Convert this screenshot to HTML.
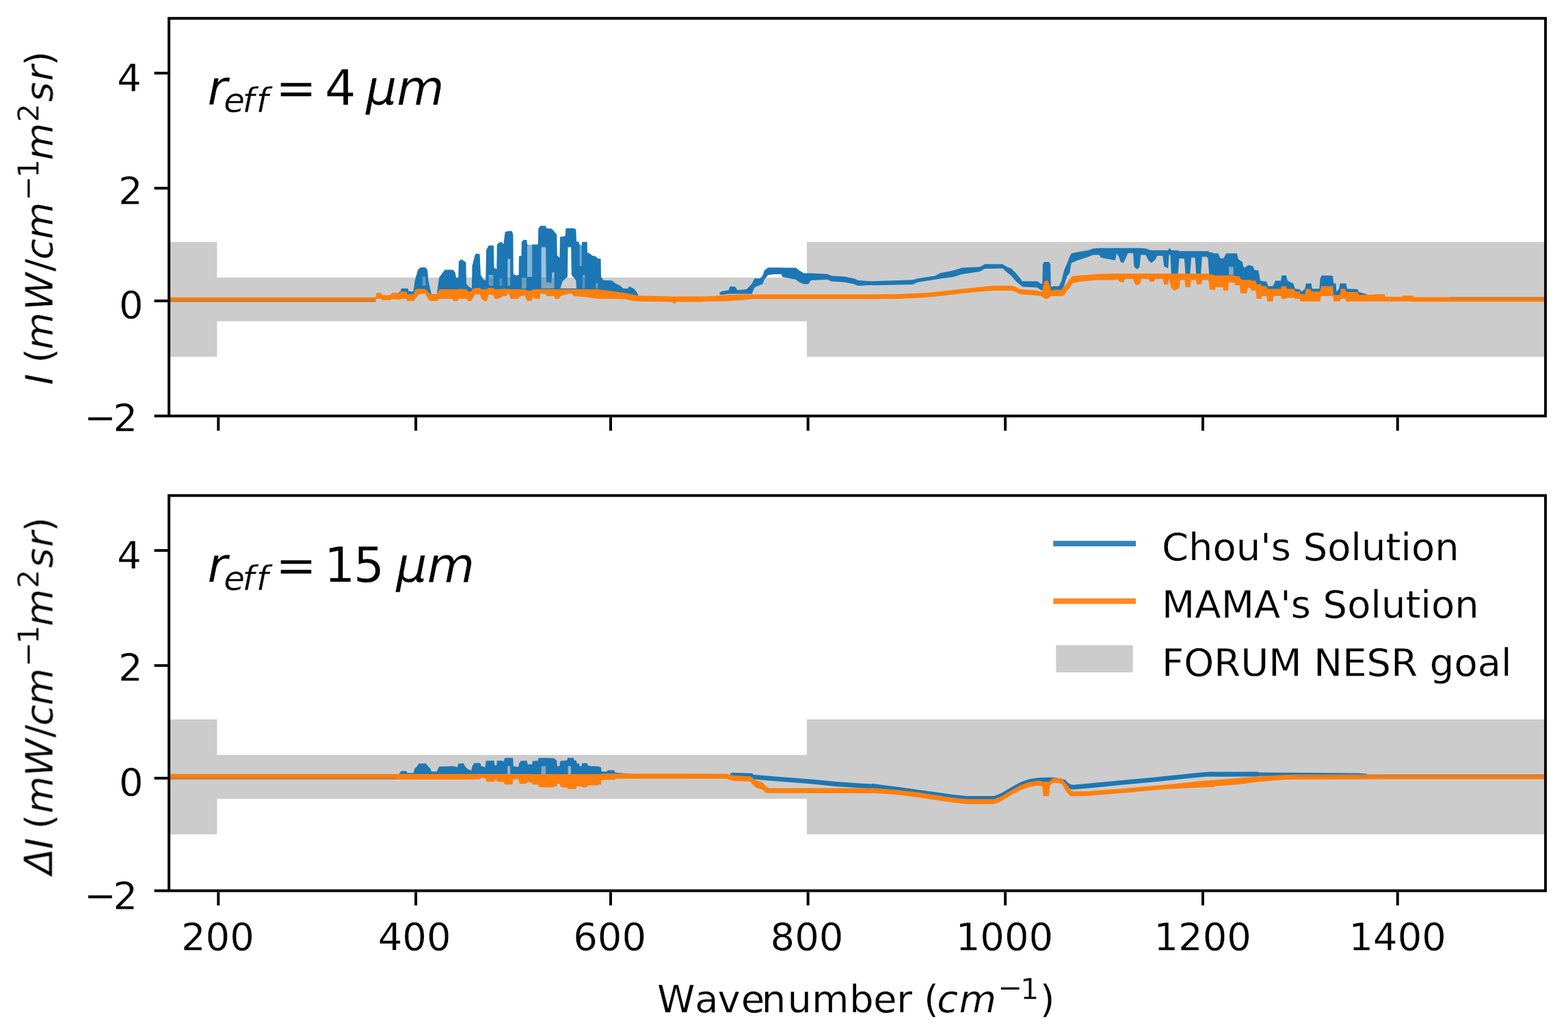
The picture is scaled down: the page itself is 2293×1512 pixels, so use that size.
<!DOCTYPE html>
<html><head><meta charset="utf-8"><title>plot</title>
<style>html,body{margin:0;padding:0;background:#fff}svg{display:block}</style></head>
<body>
<svg width="2293" height="1512" viewBox="0 0 2293 1512" role="img" aria-label="Radiance difference spectra for two effective radii">
<rect width="2293" height="1512" fill="#fff"/>
<defs>
<clipPath id="ct"><rect x="247.1" y="26.8" width="2013.0" height="581.5"/></clipPath>
<clipPath id="cb"><rect x="247.1" y="724.6" width="2013.0" height="577.9"/></clipPath>
<mask id="mt" maskUnits="userSpaceOnUse" x="0" y="0" width="2293" height="1512"><rect width="2293" height="1512" fill="#fff"/>
<polygon points="830.5,361.5 835.1,361.5 835.8,402.1 842.3,410.0 843.0,421.8 819.4,421.8 822.7,411.3 829.9,404.8" fill="rgb(0,0,0)"/>
<polygon points="791.6,361.5 798.2,361.5 798.7,412.6 806.3,413.9 807.6,398.2 810.5,398.2 810.5,421.8 791.6,421.8" fill="rgb(115,115,115)"/>
<polygon points="771.0,358.9 778.2,358.9 778.2,404.8 771.0,404.8" fill="rgb(140,140,140)"/>
<polygon points="763.1,406.1 769.6,406.1 769.6,421.8 763.1,421.8" fill="rgb(128,128,128)"/>
<polygon points="847.6,358.9 850.8,358.9 850.8,389.0 847.6,389.0" fill="rgb(166,166,166)"/>
<polygon points="852.1,402.1 855.4,402.1 855.4,421.8 852.1,421.8" fill="rgb(166,166,166)"/>
<polygon points="871.1,413.9 874.4,413.9 874.4,421.8 871.1,421.8" fill="rgb(153,153,153)"/>
<polygon points="742.2,378.6 746.2,378.6 746.2,417.8 742.2,417.8" fill="rgb(128,128,128)"/>
<polygon points="714.7,402.1 721.3,402.1 721.3,417.8 714.7,417.8" fill="rgb(153,153,153)"/>
<polygon points="730.5,407.4 734.4,407.4 734.4,417.8 730.5,417.8" fill="rgb(178,178,178)"/>
<polygon points="763.2,406.1 767.1,406.1 767.1,417.8 763.2,417.8" fill="rgb(153,153,153)"/>
<polygon points="617.8,404.8 622.4,404.8 622.4,417.8 617.8,417.8" fill="rgb(153,153,153)"/>
<polygon points="1760.5,378.6 1764.4,378.6 1764.4,398.2 1760.5,398.2" fill="rgb(38,38,38)"/>
<polygon points="1797.1,390.3 1803.7,390.3 1803.7,402.1 1797.1,402.1" fill="rgb(102,102,102)"/>
</mask>
<mask id="mb" maskUnits="userSpaceOnUse" x="0" y="0" width="2293" height="1512"><rect width="2293" height="1512" fill="#fff"/>
<polygon points="742.2,1120.3 746.2,1120.3 746.2,1134.8 742.2,1134.8" fill="rgb(77,77,77)"/>
<polygon points="791.6,1120.3 798.2,1120.3 798.2,1134.8 791.6,1134.8" fill="rgb(115,115,115)"/>
<polygon points="830.5,1120.3 834.9,1120.3 834.9,1134.8 830.5,1134.8" fill="rgb(77,77,77)"/>
</mask>
<filter id="bl" filterUnits="userSpaceOnUse" x="0" y="0" width="2293" height="1512"><feGaussianBlur stdDeviation="0.5"/></filter>
<filter id="bt" filterUnits="userSpaceOnUse" x="0" y="0" width="2293" height="1512"><feGaussianBlur stdDeviation="0.7"/></filter>
</defs>
<polygon points="247.1,353.8 317.3,353.8 317.3,405.8 1179.8,405.8 1179.8,353.8 2260.1,353.8 2260.1,521.8 1179.8,521.8 1179.8,469.8 317.3,469.8 317.3,521.8 247.1,521.8" fill="#cccccc" clip-path="url(#ct)"/>
<polygon points="247.1,1051.9 317.3,1051.9 317.3,1103.9 1179.8,1103.9 1179.8,1051.9 2260.1,1051.9 2260.1,1219.9 1179.8,1219.9 1179.8,1167.9 317.3,1167.9 317.3,1219.9 247.1,1219.9" fill="#cccccc" clip-path="url(#cb)"/>
<g clip-path="url(#ct)" filter="url(#bl)">
<g mask="url(#mt)">
<polygon points="578.6,430.9 585.8,425.7 587.1,421.8 596.2,421.8 597.6,425.7 603.4,426.4 604.8,424.4 606.7,410.0 611.3,394.3 615.2,391.0 621.8,391.0 625.0,394.3 626.4,410.0 629.0,421.8 630.9,430.3 638.8,430.3 642.1,406.1 646.7,399.5 650.6,394.5 662.4,394.5 665.6,398.2 667.0,406.1 670.2,406.1 670.9,382.5 674.2,379.2 678.1,381.2 681.4,383.8 682.0,415.2 685.9,419.2 689.9,421.8 690.5,389.0 694.4,373.3 696.4,370.7 701.6,371.4 703.0,402.1 706.9,408.7 710.2,410.0 711.1,365.5 714.7,358.9 721.9,358.9 722.6,391.7 726.3,393.6 726.8,357.6 730.5,354.3 734.4,354.3 736.3,357.6 738.6,339.3 742.2,338.0 748.8,338.0 750.4,343.2 750.8,400.8 754.7,402.8 758.6,402.1 759.0,374.6 762.5,374.0 762.9,353.7 765.8,350.4 770.4,351.1 771.0,357.6 775.0,358.9 775.0,358.3 778.2,358.3 778.8,357.6 786.7,357.6 787.3,334.0 790.6,330.1 798.4,330.4 799.1,334.0 806.3,334.3 810.2,338.0 814.2,343.2 814.8,373.3 818.4,377.3 819.0,346.5 822.7,345.8 826.6,345.2 827.3,334.3 830.5,333.8 839.0,333.8 842.3,335.4 843.0,353.0 846.6,353.7 847.2,357.6 850.8,358.9 851.1,353.7 858.7,353.7 858.9,369.4 862.6,370.7 866.5,374.0 870.5,374.4 874.4,377.9 878.6,378.6 879.0,404.8 882.3,409.7 886.8,410.0 894.7,410.3 899.3,413.9 907.1,417.8 911.1,421.8 918.9,422.0 919.6,418.5 926.8,422.0 930.7,426.4 933.3,430.9 933.3,436.5 926.8,435.5 913.7,432.9 899.3,431.6 874.4,430.0 854.8,428.6 839.0,428.0 835.1,426.0 828.6,426.7 819.4,428.0 818.1,430.0 811.5,430.0 810.2,428.0 799.8,428.0 798.4,426.7 790.6,426.0 789.3,430.0 782.7,430.0 778.8,428.6 777.5,432.6 775.0,432.6 775.0,432.3 771.0,432.6 767.1,427.3 761.9,428.0 756.6,430.0 746.8,430.0 743.6,425.0 740.9,427.7 735.7,427.7 729.1,430.0 723.9,430.0 721.3,426.4 714.7,425.7 712.1,431.3 708.2,431.6 704.3,430.0 701.6,425.7 695.1,425.7 691.2,429.6 688.6,433.2 684.6,433.2 682.0,430.0 671.5,429.6 668.9,431.6 663.7,431.6 661.1,430.0 642.7,430.0 638.8,435.2 629.6,435.2 625.7,431.6 621.8,425.7 612.6,426.4 607.4,430.0 604.8,435.2 595.6,435.2 594.3,431.6 586.4,431.6 585.1,433.2 578.6,433.1" fill="#1f77b4"/>
<polygon points="1052.4,427.7 1056.3,425.7 1065.5,424.3 1067.4,419.0 1074.6,419.0 1078.6,424.3 1091.7,423.0 1095.6,419.0 1099.5,415.1 1103.4,407.2 1111.3,407.2 1115.2,403.3 1117.8,395.5 1123.1,391.3 1130.9,391.3 1142.7,391.3 1144.0,391.5 1163.7,391.5 1168.9,395.5 1175.5,399.4 1182.0,399.4 1185.9,399.4 1209.5,400.7 1216.1,403.3 1235.7,404.6 1248.8,407.2 1255.3,409.9 1275.0,411.2 1275.0,411.2 1335.1,409.2 1341.7,407.2 1367.8,403.3 1374.4,399.4 1394.0,395.5 1407.1,391.5 1433.3,390.2 1439.9,386.3 1466.1,386.3 1472.6,390.2 1479.1,392.8 1485.7,399.4 1492.2,407.2 1494.9,411.2 1517.1,411.2 1522.4,415.1 1524.3,415.1 1525.0,386.3 1526.9,383.0 1534.1,383.0 1536.1,386.3 1536.8,419.0 1540.0,419.0 1539.9,418.4 1548.4,418.4 1552.4,410.5 1556.3,394.8 1560.2,385.6 1564.2,375.2 1566.8,370.6 1575.9,368.6 1591.7,366.0 1598.2,363.4 1607.4,362.7 1610.0,362.7 1624.4,362.7 1630.9,362.7 1632.9,362.7 1636.2,362.7 1638.8,362.7 1642.7,362.7 1646.7,362.7 1649.3,362.7 1657.1,362.7 1658.4,362.7 1662.4,362.7 1666.3,362.7 1668.3,362.7 1675.5,363.4 1679.4,364.7 1683.3,366.0 1688.6,366.0 1692.5,366.0 1700.3,366.0 1702.3,366.0 1708.2,366.0 1709.5,363.4 1711.5,363.4 1712.8,366.0 1722.6,366.0 1724.6,367.3 1731.8,367.3 1733.7,367.3 1740.3,367.3 1742.2,367.3 1747.5,367.3 1749.4,367.3 1756.0,367.3 1758.0,367.3 1764.5,367.3 1766.5,367.3 1768.4,368.6 1775.0,369.9 1775.0,370.6 1781.4,370.6 1784.7,377.8 1789.3,377.8 1793.2,370.6 1808.9,370.6 1810.9,379.1 1816.8,383.0 1818.7,390.9 1820.7,390.9 1825.9,387.6 1832.5,389.6 1834.5,394.8 1840.3,395.5 1843.0,410.5 1852.1,411.8 1854.8,418.4 1861.3,418.4 1865.2,410.5 1873.1,410.5 1874.4,402.7 1880.9,402.7 1882.9,410.5 1891.4,414.4 1894.0,422.3 1900.6,423.0 1903.2,426.4 1908.4,422.3 1909.7,414.4 1917.6,414.4 1918.9,422.3 1929.4,422.3 1930.7,406.6 1933.3,402.7 1949.0,403.3 1950.3,414.4 1953.6,414.4 1954.3,426.2 1958.2,422.3 1959.5,414.4 1968.7,414.4 1970.0,422.3 1985.7,423.0 1987.0,426.9 1998.8,430.3 1998.8,436.2 1987.0,434.3 1985.7,434.3 1970.0,433.0 1968.7,431.7 1959.5,431.7 1958.2,433.0 1954.3,433.0 1953.6,431.7 1950.3,431.7 1949.0,425.2 1933.3,425.2 1930.7,425.2 1929.4,430.4 1918.9,430.4 1917.6,430.4 1909.7,430.4 1908.4,431.7 1903.2,432.3 1900.6,430.4 1894.0,430.4 1891.4,427.8 1882.9,426.5 1880.9,425.2 1874.4,425.2 1873.1,425.2 1865.2,425.2 1861.3,425.2 1854.8,425.2 1852.1,423.9 1843.0,422.6 1840.3,419.9 1834.5,417.3 1832.5,414.7 1825.9,413.4 1820.7,412.1 1818.7,412.1 1816.8,409.5 1810.9,406.8 1808.9,404.2 1793.2,404.2 1789.3,404.2 1784.7,404.2 1781.4,404.2 1775.0,404.2 1775.0,402.9 1768.4,402.9 1766.5,378.0 1764.5,375.4 1758.0,375.4 1756.0,401.6 1749.4,401.6 1747.5,376.7 1742.2,376.7 1740.3,401.6 1733.7,401.6 1731.8,378.0 1724.6,378.0 1722.6,401.6 1712.8,401.6 1711.5,372.8 1709.5,372.8 1708.2,392.4 1702.3,389.8 1700.3,374.1 1692.5,374.1 1688.6,380.7 1683.3,384.6 1679.4,380.7 1675.5,372.8 1668.3,372.8 1666.3,391.1 1662.4,393.8 1658.4,389.8 1657.1,370.2 1649.3,370.2 1646.7,376.7 1642.7,384.6 1638.8,383.3 1636.2,375.4 1632.9,370.2 1630.9,380.7 1624.4,379.4 1610.0,376.7 1607.4,372.8 1598.2,372.8 1591.7,375.4 1575.9,380.7 1566.8,384.6 1564.2,399.0 1560.2,404.2 1556.3,417.3 1552.4,425.2 1548.4,426.5 1539.9,426.5 1540.0,425.8 1536.8,425.8 1536.1,424.5 1534.1,424.5 1526.9,424.5 1525.0,424.5 1524.3,424.5 1522.4,424.5 1517.1,420.6 1494.9,419.3 1492.2,416.7 1485.7,411.4 1479.1,403.6 1472.6,398.3 1466.1,392.4 1439.9,393.1 1433.3,397.0 1407.1,401.0 1394.0,404.9 1374.4,407.5 1367.8,408.8 1341.7,412.7 1335.1,416.0 1275.0,417.3 1275.0,416.7 1255.3,418.0 1248.8,415.4 1235.7,412.7 1216.1,411.4 1209.5,408.8 1185.9,410.1 1182.0,415.4 1175.5,415.4 1168.9,412.7 1163.7,408.8 1144.0,404.9 1142.7,401.0 1130.9,401.0 1123.1,402.3 1117.8,408.8 1115.2,415.4 1111.3,416.7 1103.4,420.6 1099.5,429.8 1095.6,429.8 1091.7,429.8 1078.6,429.8 1074.6,429.8 1067.4,429.8 1065.5,429.8 1056.3,430.9 1052.4,430.9" fill="#1f77b4"/>
</g>
<polygon points="247.0,434.7 549.5,434.7 550.4,428.3 557.6,428.3 558.9,431.5 570.7,431.5 573.3,428.3 585.1,428.3 586.4,426.3 594.3,426.3 595.6,430.2 604.8,430.2 607.4,423.0 612.6,422.4 621.8,422.4 625.7,426.3 629.6,430.2 638.8,430.2 642.7,423.0 661.1,423.0 663.7,423.0 668.9,423.0 671.5,422.4 682.0,423.0 684.6,426.3 688.6,426.3 691.2,422.4 695.1,421.1 701.6,421.1 704.3,423.0 708.2,423.0 712.1,422.4 714.7,421.1 721.3,421.1 723.9,423.0 729.1,423.0 735.7,422.4 740.9,422.4 743.6,422.4 746.8,423.0 756.6,423.0 761.9,423.0 767.1,423.0 771.0,425.0 775.0,425.0 775.0,425.0 777.5,425.0 778.8,423.0 782.7,423.0 789.3,423.0 790.6,423.0 798.4,423.0 799.8,423.0 810.2,423.0 811.5,423.0 818.1,423.0 819.4,423.0 828.6,423.0 835.1,423.0 839.0,423.0 854.8,423.0 874.4,423.0 899.3,426.3 913.7,428.3 926.8,430.9 933.3,432.2 983.1,433.5 985.7,433.5 989.6,433.5 1025.0,433.5 1025.0,433.5 1031.4,433.5 1052.4,432.2 1065.5,430.9 1091.7,430.6 1099.5,430.6 1261.9,430.6 1275.0,430.5 1275.0,430.5 1315.5,430.0 1354.8,428.3 1380.9,425.6 1407.1,422.4 1433.3,419.7 1453.0,417.8 1479.1,417.8 1485.7,419.7 1492.2,423.0 1511.9,424.3 1522.4,426.3 1524.3,426.3 1526.3,414.5 1528.3,410.6 1532.2,410.6 1534.1,414.5 1536.8,423.7 1540.0,425.0 1539.9,423.7 1552.4,423.7 1556.3,418.4 1560.2,414.5 1564.2,408.0 1568.1,404.0 1578.6,402.7 1604.8,400.8 1630.9,400.1 1633.6,400.1 1637.5,400.1 1642.7,400.1 1645.3,400.1 1657.1,400.1 1659.1,400.1 1663.0,400.1 1667.6,400.1 1668.9,400.1 1679.4,400.1 1682.0,400.1 1687.2,400.1 1689.9,400.1 1700.3,400.1 1702.3,400.1 1708.2,400.1 1709.5,400.1 1712.8,400.1 1717.4,400.1 1724.6,400.1 1725.9,400.1 1732.4,400.1 1733.7,400.1 1740.3,400.1 1742.2,400.1 1748.8,400.1 1750.1,400.1 1756.6,400.1 1758.6,400.1 1767.1,400.1 1769.1,401.4 1775.0,401.4 1775.0,402.7 1776.2,402.7 1777.5,402.7 1788.0,402.7 1789.3,402.7 1795.8,402.7 1797.1,402.7 1805.0,402.7 1806.3,404.0 1812.9,404.0 1814.2,409.3 1823.3,409.3 1824.6,409.3 1828.6,409.3 1829.9,410.6 1836.4,410.6 1837.7,415.8 1844.3,415.8 1845.6,418.4 1852.1,418.4 1853.4,422.4 1861.3,422.4 1862.6,422.4 1873.1,422.4 1874.4,418.4 1880.9,418.4 1882.3,422.4 1892.7,422.4 1894.0,426.3 1900.6,426.3 1901.9,430.2 1908.4,430.2 1909.7,422.4 1916.3,422.4 1917.6,426.3 1930.7,426.3 1932.0,418.4 1949.0,418.4 1950.3,431.5 1959.5,431.5 1960.8,422.4 1967.4,422.4 1968.7,426.9 1985.7,426.9 1987.0,430.9 2009.3,430.9 2010.6,430.2 2025.0,430.2 2025.0,430.9 2026.2,434.1 2049.8,434.1 2052.4,432.2 2065.5,432.2 2068.1,434.4 2258.6,434.4 2258.6,441.2 2068.1,441.2 2065.5,440.8 2052.4,440.8 2049.8,440.8 2026.2,440.8 2025.0,440.8 2025.0,440.8 2010.6,440.8 2009.3,440.8 1987.0,440.8 1985.7,440.8 1968.7,440.8 1967.4,436.9 1960.8,436.9 1959.5,440.8 1950.3,440.8 1949.0,433.0 1932.0,433.0 1930.7,440.8 1917.6,440.8 1916.3,440.8 1909.7,440.8 1908.4,440.8 1901.9,440.8 1900.6,436.9 1894.0,436.9 1892.7,435.6 1882.3,435.6 1880.9,436.9 1874.4,436.9 1873.1,433.0 1862.6,433.0 1861.3,440.8 1853.4,440.8 1852.1,433.0 1845.6,433.0 1844.3,436.9 1837.7,436.9 1836.4,425.1 1829.9,425.1 1828.6,421.2 1824.6,421.2 1823.3,429.0 1814.2,429.0 1812.9,417.3 1806.3,417.3 1805.0,413.3 1797.1,413.3 1795.8,425.1 1789.3,425.1 1788.0,419.9 1777.5,419.9 1776.2,425.1 1775.0,425.1 1775.0,423.8 1769.1,423.8 1767.1,409.4 1758.6,409.4 1756.6,415.9 1750.1,415.9 1748.8,409.4 1742.2,409.4 1740.3,419.9 1733.7,419.9 1732.4,409.4 1725.9,409.4 1724.6,421.2 1717.4,425.1 1712.8,421.2 1709.5,408.1 1708.2,415.9 1702.3,415.9 1700.3,408.1 1689.9,408.1 1687.2,412.0 1682.0,412.0 1679.4,408.1 1668.9,408.1 1667.6,414.6 1663.0,417.3 1659.1,414.6 1657.1,408.1 1645.3,408.1 1642.7,413.3 1637.5,412.0 1633.6,408.1 1630.9,409.4 1604.8,409.4 1578.6,412.0 1568.1,414.6 1564.2,421.2 1560.2,425.1 1556.3,431.7 1552.4,433.0 1539.9,433.0 1540.0,433.0 1536.8,433.0 1534.1,435.6 1532.2,436.9 1528.3,436.9 1526.3,435.6 1524.3,434.3 1522.4,433.0 1511.9,431.7 1492.2,430.4 1485.7,427.1 1479.1,425.1 1453.0,424.9 1433.3,426.4 1407.1,429.0 1380.9,432.3 1354.8,434.9 1315.5,436.9 1275.0,437.3 1275.0,437.2 1261.9,437.3 1099.5,437.3 1091.7,438.2 1065.5,440.2 1052.4,440.8 1031.4,440.8 1025.0,441.5 1025.0,441.5 989.6,441.5 985.7,444.8 983.1,441.5 933.3,440.8 926.8,440.2 913.7,437.6 899.3,436.9 874.4,436.9 854.8,434.3 839.0,433.0 835.1,429.0 828.6,430.4 819.4,433.0 818.1,436.9 811.5,436.9 810.2,433.0 799.8,433.0 798.4,430.4 790.6,429.0 789.3,436.9 782.7,436.9 778.8,434.3 777.5,440.2 775.0,440.2 775.0,439.5 771.0,440.2 767.1,431.7 761.9,433.0 756.6,436.9 746.8,436.9 743.6,427.7 740.9,433.0 735.7,433.0 729.1,436.9 723.9,436.9 721.3,431.7 714.7,430.4 712.1,440.2 708.2,440.2 704.3,436.9 701.6,430.4 695.1,430.4 691.2,436.9 688.6,440.2 684.6,440.2 682.0,436.9 671.5,436.9 668.9,440.2 663.7,440.2 661.1,436.9 642.7,436.9 638.8,440.2 629.6,440.2 625.7,436.9 621.8,429.0 612.6,430.4 607.4,436.9 604.8,440.2 595.6,440.2 594.3,436.9 586.4,436.9 585.1,438.2 573.3,437.6 570.7,438.9 558.9,438.9 557.6,436.9 550.4,436.9 549.5,441.5 247.0,441.5" fill="#ff7f0e"/>
<rect x="249" y="438.1" width="300" height="3.5" fill="#cc8038"/>
<rect x="2120" y="434.4" width="139" height="3.6" fill="#d38033"/>
</g>
<g clip-path="url(#cb)" filter="url(#bl)">
<g mask="url(#mb)">
<polygon points="583.8,1130.8 585.1,1130.2 586.4,1127.6 594.3,1127.6 595.6,1130.2 604.8,1130.2 606.1,1124.3 610.0,1120.3 612.6,1116.4 623.1,1116.4 625.7,1120.3 629.6,1124.3 630.9,1128.2 638.8,1128.2 642.1,1121.0 662.4,1120.3 668.9,1121.7 670.2,1116.4 678.1,1116.2 680.0,1120.3 683.3,1124.3 689.2,1126.9 690.5,1120.3 693.8,1115.8 702.3,1115.8 703.6,1120.3 709.5,1121.7 710.8,1112.5 722.6,1112.2 723.3,1119.0 726.3,1119.0 726.8,1112.2 734.4,1112.2 736.3,1113.8 738.3,1108.3 750.1,1108.3 750.8,1120.3 758.0,1121.7 759.0,1116.4 761.9,1112.5 770.4,1112.2 771.7,1117.7 775.0,1117.7 775.0,1117.7 778.2,1117.7 778.8,1112.8 786.7,1112.5 787.3,1108.6 798.4,1108.2 810.2,1108.8 814.2,1112.5 814.8,1120.3 818.4,1120.3 819.0,1113.1 822.7,1112.5 829.2,1111.8 830.1,1108.2 839.0,1108.2 839.7,1111.8 843.0,1112.2 843.6,1116.4 846.9,1116.4 847.6,1120.3 850.6,1120.3 851.1,1116.0 858.7,1116.0 859.3,1119.0 862.6,1120.3 874.4,1120.6 879.0,1122.3 879.6,1128.2 887.5,1128.2 888.8,1126.2 898.0,1126.2 899.3,1129.5 920.2,1131.5 920.2,1134.9 900.6,1134.9 899.3,1135.6 879.6,1135.9 879.0,1139.7 875.0,1139.7 874.4,1140.3 859.3,1140.3 858.7,1141.6 851.5,1141.6 850.8,1141.0 843.2,1141.0 842.3,1142.9 830.5,1142.9 829.9,1142.0 822.7,1141.6 819.4,1141.0 818.7,1139.0 814.8,1139.0 814.2,1141.0 810.9,1141.0 810.2,1141.6 790.6,1141.6 787.3,1141.0 786.7,1139.7 778.8,1139.7 778.2,1138.4 775.0,1138.4 775.0,1137.8 772.4,1137.5 769.7,1138.8 759.9,1138.8 758.0,1135.5 750.8,1135.5 749.4,1139.5 738.3,1139.5 735.7,1137.5 727.8,1137.5 724.6,1135.5 722.6,1137.5 712.1,1137.5 709.5,1134.9 704.3,1134.8 701.6,1135.5 693.8,1135.5 689.9,1135.9 583.8,1135.9" fill="#1f77b4"/>
<polygon points="1068.1,1130.8 1070.7,1129.8 1099.5,1130.8 1102.1,1132.7 1130.9,1135.3 1183.3,1139.2 1222.6,1143.1 1261.9,1145.8 1275.0,1146.4 1275.0,1145.8 1289.3,1147.7 1315.5,1151.0 1341.7,1154.7 1367.8,1158.2 1394.0,1162.1 1413.7,1164.1 1453.0,1164.1 1459.5,1162.1 1466.1,1158.8 1479.1,1151.0 1492.2,1143.8 1505.3,1139.2 1518.4,1137.2 1540.0,1136.6 1539.9,1136.6 1557.6,1139.9 1561.5,1144.4 1565.5,1147.1 1569.4,1147.7 1598.2,1145.1 1637.5,1141.2 1670.2,1138.2 1687.0,1136.7 1722.6,1132.9 1761.9,1129.0 1775.0,1128.5 1775.0,1128.7 1839.0,1128.5 1841.7,1129.5 1985.7,1130.6 1998.8,1131.5 1998.8,1134.8 1985.7,1134.8 1841.7,1134.8 1839.0,1135.5 1775.0,1135.8 1775.0,1135.5 1761.9,1135.8 1722.6,1139.7 1687.0,1143.5 1670.2,1145.0 1637.5,1148.0 1598.2,1151.9 1569.4,1154.5 1565.5,1153.9 1561.5,1151.3 1557.6,1146.7 1539.9,1143.4 1540.0,1143.4 1518.4,1144.1 1505.3,1146.0 1492.2,1150.6 1479.1,1157.8 1466.1,1165.7 1459.5,1168.9 1453.0,1170.9 1413.7,1170.9 1394.0,1168.9 1367.8,1165.0 1341.7,1161.5 1315.5,1157.8 1289.3,1154.5 1275.0,1152.6 1275.0,1153.2 1261.9,1152.6 1222.6,1149.9 1183.3,1146.0 1130.9,1142.1 1102.1,1139.5 1099.5,1136.7 1070.7,1135.4 1068.1,1134.8" fill="#1f77b4"/>
</g>
<polygon points="247.0,1131.8 689.9,1131.8 693.8,1131.7 701.6,1131.7 704.3,1131.7 709.5,1131.7 712.1,1131.7 722.6,1131.7 724.6,1131.7 727.8,1131.7 735.7,1131.7 738.3,1131.7 749.4,1131.7 750.8,1131.7 758.0,1131.7 759.9,1131.7 769.7,1131.7 772.4,1131.7 775.0,1131.7 775.0,1132.1 778.2,1132.1 778.8,1132.1 786.7,1132.1 787.3,1132.1 790.6,1132.1 810.2,1132.1 810.9,1132.1 814.2,1132.1 814.8,1132.1 818.7,1132.1 819.4,1132.1 822.7,1132.1 829.9,1132.1 830.5,1132.1 842.3,1132.1 843.2,1132.1 850.8,1132.1 851.5,1132.1 858.7,1132.1 859.3,1132.1 874.4,1132.1 875.0,1132.1 879.0,1132.1 879.6,1131.2 899.3,1131.2 900.6,1131.2 1025.0,1131.2 1025.0,1131.2 1062.9,1131.4 1068.1,1132.7 1073.3,1134.0 1096.9,1135.3 1100.8,1138.0 1104.8,1140.6 1115.2,1144.5 1119.2,1148.4 1124.4,1152.4 1275.0,1152.6 1275.0,1152.4 1289.3,1153.2 1315.5,1155.4 1341.7,1158.6 1367.8,1162.6 1394.0,1166.5 1413.7,1168.5 1453.0,1168.5 1459.5,1166.5 1466.1,1163.2 1479.1,1155.4 1492.2,1148.2 1505.3,1143.6 1518.4,1141.6 1523.7,1142.3 1524.3,1143.2 1525.6,1143.2 1534.1,1143.2 1535.5,1141.9 1540.0,1137.3 1539.9,1137.3 1552.4,1137.7 1557.6,1144.5 1561.5,1148.4 1565.5,1155.0 1569.4,1157.3 1591.7,1157.1 1608.7,1155.6 1630.9,1153.9 1650.6,1152.4 1670.2,1150.4 1687.0,1149.0 1709.5,1146.9 1761.9,1141.6 1775.0,1140.8 1775.0,1140.6 1808.9,1138.0 1841.7,1135.3 1880.9,1133.0 1985.7,1132.7 2025.0,1132.6 2025.0,1132.6 2258.6,1132.6 2258.6,1139.5 2025.0,1139.5 2025.0,1139.5 1985.7,1139.7 1880.9,1140.1 1841.7,1143.3 1808.9,1147.3 1775.0,1149.9 1775.0,1150.9 1761.9,1151.2 1709.5,1153.8 1687.0,1155.6 1670.2,1157.1 1650.6,1159.0 1630.9,1160.6 1608.7,1162.3 1591.7,1163.8 1569.4,1164.3 1565.5,1164.3 1561.5,1160.4 1557.6,1155.1 1552.4,1145.3 1539.9,1144.6 1540.0,1144.6 1535.5,1148.6 1534.1,1164.3 1525.6,1164.3 1524.3,1149.9 1523.7,1149.5 1518.4,1148.8 1505.3,1150.8 1492.2,1155.4 1479.1,1162.6 1466.1,1170.4 1459.5,1173.7 1453.0,1175.7 1413.7,1175.7 1394.0,1173.7 1367.8,1169.8 1341.7,1165.9 1315.5,1162.6 1289.3,1160.4 1275.0,1159.7 1275.0,1160.0 1124.4,1159.7 1119.2,1159.0 1115.2,1155.1 1104.8,1151.2 1100.8,1147.3 1096.9,1142.7 1073.3,1142.0 1068.1,1140.7 1062.9,1138.7 1025.0,1138.7 1025.0,1138.7 900.6,1138.7 899.3,1140.1 879.6,1140.7 879.0,1147.3 875.0,1147.3 874.4,1148.6 859.3,1148.6 858.7,1151.2 851.5,1151.2 850.8,1149.9 843.2,1149.9 842.3,1153.8 830.5,1153.8 829.9,1151.8 822.7,1151.2 819.4,1149.9 818.7,1145.9 814.8,1145.9 814.2,1149.9 810.9,1149.9 810.2,1151.2 790.6,1151.2 787.3,1149.9 786.7,1147.3 778.8,1147.3 778.2,1144.6 775.0,1144.6 775.0,1144.0 772.4,1143.3 769.7,1145.9 759.9,1145.9 758.0,1139.4 750.8,1139.4 749.4,1147.3 738.3,1147.3 735.7,1143.3 727.8,1143.3 724.6,1139.4 722.6,1143.3 712.1,1143.3 709.5,1138.1 704.3,1137.8 701.6,1139.4 693.8,1139.4 689.9,1140.1 247.0,1140.1" fill="#ff7f0e"/>
<rect x="249" y="1136.0" width="330" height="3.6" fill="#cc8038"/>
<rect x="1890" y="1132.5" width="369" height="3.6" fill="#d38033"/>
</g>
<rect x="247.1" y="26.8" width="2013.0" height="581.5" fill="none" stroke="#000" stroke-width="4.0"/>
<rect x="247.1" y="724.6" width="2013.0" height="577.9" fill="none" stroke="#000" stroke-width="4.0"/>
<line x1="319.3" y1="610.3" x2="319.3" y2="629.8" stroke="#000" stroke-width="4.0"/>
<line x1="608.1" y1="610.3" x2="608.1" y2="629.8" stroke="#000" stroke-width="4.0"/>
<line x1="893.0" y1="610.3" x2="893.0" y2="629.8" stroke="#000" stroke-width="4.0"/>
<line x1="1181.6" y1="610.3" x2="1181.6" y2="629.8" stroke="#000" stroke-width="4.0"/>
<line x1="1470.1" y1="610.3" x2="1470.1" y2="629.8" stroke="#000" stroke-width="4.0"/>
<line x1="1759.0" y1="610.3" x2="1759.0" y2="629.8" stroke="#000" stroke-width="4.0"/>
<line x1="2043.8" y1="610.3" x2="2043.8" y2="629.8" stroke="#000" stroke-width="4.0"/>
<line x1="319.3" y1="1304.5" x2="319.3" y2="1324.0" stroke="#000" stroke-width="4.0"/>
<line x1="608.1" y1="1304.5" x2="608.1" y2="1324.0" stroke="#000" stroke-width="4.0"/>
<line x1="893.0" y1="1304.5" x2="893.0" y2="1324.0" stroke="#000" stroke-width="4.0"/>
<line x1="1181.6" y1="1304.5" x2="1181.6" y2="1324.0" stroke="#000" stroke-width="4.0"/>
<line x1="1470.1" y1="1304.5" x2="1470.1" y2="1324.0" stroke="#000" stroke-width="4.0"/>
<line x1="1759.0" y1="1304.5" x2="1759.0" y2="1324.0" stroke="#000" stroke-width="4.0"/>
<line x1="2043.8" y1="1304.5" x2="2043.8" y2="1324.0" stroke="#000" stroke-width="4.0"/>
<line x1="225.6" y1="106.9" x2="245.1" y2="106.9" stroke="#000" stroke-width="4.0"/>
<line x1="225.6" y1="275.2" x2="245.1" y2="275.2" stroke="#000" stroke-width="4.0"/>
<line x1="225.6" y1="440.0" x2="245.1" y2="440.0" stroke="#000" stroke-width="4.0"/>
<line x1="225.6" y1="608.3" x2="245.1" y2="608.3" stroke="#000" stroke-width="4.0"/>
<line x1="225.6" y1="804.9" x2="245.1" y2="804.9" stroke="#000" stroke-width="4.0"/>
<line x1="225.6" y1="973.2" x2="245.1" y2="973.2" stroke="#000" stroke-width="4.0"/>
<line x1="225.6" y1="1137.9" x2="245.1" y2="1137.9" stroke="#000" stroke-width="4.0"/>
<line x1="225.6" y1="1302.5" x2="245.1" y2="1302.5" stroke="#000" stroke-width="4.0"/>
<g font-family="'DejaVu Sans', 'Liberation Sans', sans-serif" fill="#000" stroke="#fff" stroke-width="0.3" stroke-linejoin="round" filter="url(#bt)">
<text><tspan x="264.9" y="1388.5" font-size="56.0">200</tspan></text>
<text><tspan x="552.7" y="1388.5" font-size="56.0">400</tspan></text>
<text><tspan x="838.2" y="1388.5" font-size="56.0">600</tspan></text>
<text><tspan x="1126.5" y="1388.5" font-size="56.0">800</tspan></text>
<text><tspan x="1397.7" y="1388.5" font-size="56.0">1000</tspan></text>
<text><tspan x="1687.4" y="1388.5" font-size="56.0">1200</tspan></text>
<text><tspan x="1972.4" y="1388.5" font-size="56.0">1400</tspan></text>
<text><tspan x="171.2" y="132.8" font-size="56.0">4</tspan></text>
<text><tspan x="173.0" y="297.5" font-size="56.0">2</tspan></text>
<text><tspan x="174.0" y="465.2" font-size="56.0">0</tspan></text>
<text><tspan x="123.1 165.4" y="630.1" font-size="56.0">−2</tspan></text>
<text><tspan x="171.2" y="831.1" font-size="56.0">4</tspan></text>
<text><tspan x="173.0" y="995.4" font-size="56.0">2</tspan></text>
<text><tspan x="174.0" y="1163.2" font-size="56.0">0</tspan></text>
<text><tspan x="123.1 165.4" y="1328.5" font-size="56.0">−2</tspan></text>
<text><tspan x="961.1 1016.3 1049.4 1083.7 1113.8 1151.4 1187.0 1242.0 1277.1 1311.1 1344.7 1351.0" y="1480.0" font-size="56.0">Wavenumber (</tspan><tspan x="1370.3 1402.4" y="1480.0" font-size="56.0" font-style="italic">cm</tspan><tspan x="1458.9" y="1459.0" font-size="43.1">−</tspan><tspan x="1492.0" y="1460.5" font-size="43.1">1</tspan><tspan x="1520.8" y="1480.0" font-size="56.0">)</tspan></text>
<text transform="translate(76.5,562.0) rotate(-90)"><tspan x="-1.0 32.6" y="0.0" font-size="56.0" font-style="italic">I </tspan><tspan x="31.1" y="0.0" font-size="56.0">(</tspan><tspan x="50.7 107.9" y="0.0" font-size="56.0" font-style="italic">mW</tspan><tspan x="164.8" y="0.0" font-size="56.0">/</tspan><tspan x="182.2 212.0" y="0.0" font-size="56.0" font-style="italic">cm</tspan><tspan x="268.3" y="-21.5" font-size="43.1">−</tspan><tspan x="301.7" y="-20.0" font-size="43.1">1</tspan><tspan x="327.8" y="0.0" font-size="56.0" font-style="italic">m</tspan><tspan x="383.3" y="-20.0" font-size="43.1">2</tspan><tspan x="413.1 443.5" y="0.0" font-size="56.0" font-style="italic">sr</tspan><tspan x="465.6" y="0.0" font-size="56.0">)</tspan></text>
<text transform="translate(76.5,1243.5) rotate(-90)"><tspan x="-35.5 1.8 35.4" y="0.0" font-size="56.0" font-style="italic">ΔI </tspan><tspan x="31.1" y="0.0" font-size="56.0">(</tspan><tspan x="54.0 107.9" y="0.0" font-size="56.0" font-style="italic">mW</tspan><tspan x="164.8" y="0.0" font-size="56.0">/</tspan><tspan x="182.2 212.0" y="0.0" font-size="56.0" font-style="italic">cm</tspan><tspan x="268.3" y="-21.5" font-size="43.1">−</tspan><tspan x="301.7" y="-20.0" font-size="43.1">1</tspan><tspan x="327.8" y="0.0" font-size="56.0" font-style="italic">m</tspan><tspan x="383.3" y="-20.0" font-size="43.1">2</tspan><tspan x="413.1 443.5" y="0.0" font-size="56.0" font-style="italic">sr</tspan><tspan x="465.6" y="0.0" font-size="56.0">)</tspan></text>
<text><tspan x="303.3" y="152.5" font-size="71.5" font-style="italic">r</tspan><tspan x="327.2 354.6 374.7 404.7" y="164.0" font-size="50.0" font-style="italic">eff </tspan><tspan x="402.9 445.8 474.9 517.8" y="152.5" font-size="71.5">= 4 </tspan><tspan x="535.1 580.1" y="152.5" font-size="71.5" font-style="italic">μm</tspan></text>
<text><tspan x="303.3" y="851.0" font-size="71.5" font-style="italic">r</tspan><tspan x="327.2 354.6 374.7 404.7" y="862.5" font-size="50.0" font-style="italic">eff </tspan><tspan x="402.9 445.8 474.0 516.8 559.7" y="851.0" font-size="71.5">= 15 </tspan><tspan x="579.3 624.4" y="851.0" font-size="71.5" font-style="italic">μm</tspan></text>
<text x="1699.0" y="818.9" font-size="56.0">Chou's Solution</text>
<text x="1699.0" y="902.9" font-size="56.0">MAMA's Solution</text>
<text x="1699.0" y="987.7" font-size="56.0">FORUM NESR goal</text>
</g>
<rect x="1540.3" y="790.8" width="120.7" height="8.1" fill="#3583ba"/>
<rect x="1540.3" y="875.0" width="120.7" height="8.1" fill="#ff8a24"/>
<rect x="1544.3" y="943.4" width="112.4" height="39.8" fill="#cccccc"/>
</svg>
</body></html>
